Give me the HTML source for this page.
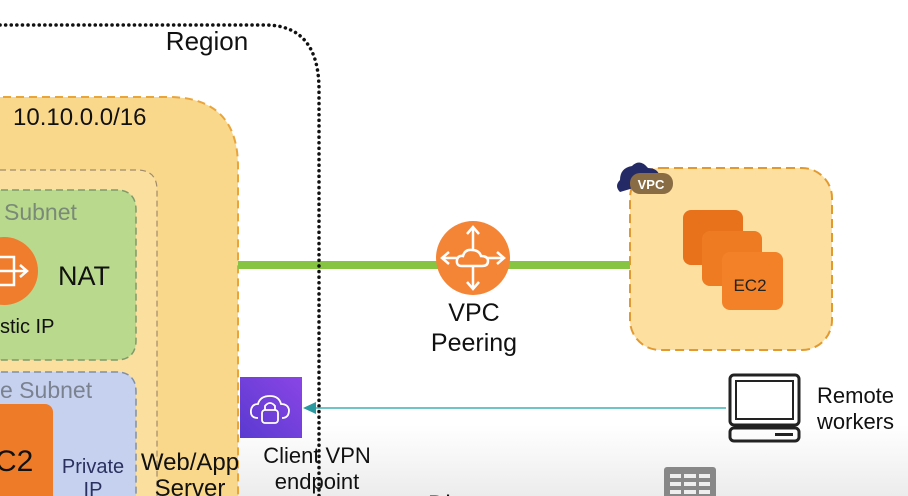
<!DOCTYPE html>
<html><head><meta charset="utf-8"><style>
html,body{margin:0;padding:0;background:#fff;}
svg{display:block;font-family:"Liberation Sans",sans-serif;}
</style></head><body>
<svg width="908" height="496" viewBox="0 0 908 496" xmlns="http://www.w3.org/2000/svg">
<defs>
<linearGradient id="bg" x1="0" y1="0" x2="0" y2="1">
<stop offset="0" stop-color="#ffffff"/><stop offset="1" stop-color="#ececec"/></linearGradient>
<linearGradient id="pur" x1="0" y1="1" x2="1" y2="0">
<stop offset="0" stop-color="#5a3ad0"/><stop offset="1" stop-color="#8a45e6"/></linearGradient>
</defs>
<rect x="0" y="425" width="908" height="71" fill="url(#bg)"/>
<path d="M-10 97 H168 Q238 97 238 167 V500 H-10 Z" fill="#f9d88c" stroke="#e9a43c" stroke-width="2" stroke-dasharray="8,5"/>
<text x="13" y="125" font-size="24" fill="#111">10.10.0.0/16</text>
<path d="M-10 170 H137 Q157 170 157 190 V500 H-10 Z" fill="#fbdf9e" stroke="#a08a6a" stroke-width="1.2" stroke-dasharray="6,4"/>
<path d="M-10 190 H116 Q136 190 136 210 V340 Q136 360 116 360 H-10 Z" fill="#b9d98c" stroke="#7f9a6a" stroke-width="1.5" stroke-dasharray="7,4"/>
<text x="4" y="220" font-size="23" fill="#7a8a78">Subnet</text>
<circle cx="4" cy="271" r="34" fill="#f07c2e"/>
<path d="M-4 257 H14 V285 H-4 M-4 271 H26 M20 265 L27 271 L20 277" fill="none" stroke="#fff" stroke-width="2.5"/>
<text x="58" y="285" font-size="27" fill="#111">NAT</text>
<text x="0" y="333" font-size="20" fill="#111">stic IP</text>
<path d="M-10 372 H116 Q136 372 136 392 V500 H-10 Z" fill="#c6d1ef" stroke="#7f8fa8" stroke-width="1.5" stroke-dasharray="7,4"/>
<text x="0" y="398" font-size="23" fill="#7a8290">e Subnet</text>
<rect x="-10" y="404" width="63" height="100" rx="8" fill="#ee7b27"/>
<text x="-5" y="471" font-size="30" fill="#111">C2</text>
<text x="93" y="473" font-size="20" fill="#2a3160" text-anchor="middle">Private</text>
<text x="93" y="496" font-size="20" fill="#2a3160" text-anchor="middle">IP</text>
<text x="190" y="470" font-size="24" fill="#111" text-anchor="middle">Web/App</text>
<text x="190" y="496" font-size="24" fill="#111" text-anchor="middle">Server</text>
<rect x="238" y="261" width="394" height="8" fill="#86c442"/>
<path d="M0 25 H265 Q319 25 319 90 V500" fill="none" stroke="#111" stroke-width="3.5" stroke-dasharray="0.1,5.5" stroke-linecap="round"/>
<text x="207" y="50" font-size="26" fill="#111" text-anchor="middle">Region</text>
<circle cx="473" cy="258" r="37" fill="#f58536"/>
<g stroke="#fff" stroke-width="2.5" fill="none">
<path d="M473 228 V288 M443 258 H503"/>
<path d="M467 234 L473 227 L479 234 M467 282 L473 289 L479 282 M449 252 L442 258 L449 264 M497 252 L504 258 L497 264"/>
<path d="M462 266 Q456 266 457 260 Q458 255 463 256 Q465 249 472 250 Q479 250 481 256 Q488 256 488 261 Q488 266 482 266 Z" fill="#f58536"/>
</g>
<text x="474" y="321" font-size="25" fill="#111" text-anchor="middle">VPC</text>
<text x="474" y="351" font-size="25" fill="#111" text-anchor="middle">Peering</text>
<rect x="630" y="168" width="202" height="182" rx="30" fill="#fddf9f" stroke="#e29a30" stroke-width="2" stroke-dasharray="9,5"/>
<path d="M620 192 Q614 186 620 180 Q620 168 632 166 Q640 158 648 168 Q660 168 660 180 Z" fill="#232a66"/>
<rect x="630" y="173" width="43" height="21" rx="10" fill="#8a6c44"/>
<text x="651" y="189" font-size="13" fill="#fff" text-anchor="middle" font-weight="bold">VPC</text>
<rect x="683" y="210" width="60" height="55" rx="8" fill="#e8711c"/>
<rect x="702" y="231" width="60" height="55" rx="8" fill="#ee7a22"/>
<rect x="722" y="252" width="61" height="58" rx="8" fill="#f38128"/>
<text x="750" y="291" font-size="17" fill="#222" text-anchor="middle">EC2</text>
<rect x="240" y="377" width="62" height="61" fill="url(#pur)"/>
<g stroke="#fff" stroke-width="1.8" fill="none">
<path d="M258 418 Q250 418 251 410 Q252 404 258 404 Q260 396 270 396 Q279 396 281 404 Q288 404 289 410 Q289 418 282 418"/>
<rect x="262" y="410" width="16" height="13" rx="3"/>
<path d="M265 410 V406 Q270 400 275 406 V410"/>
</g>
<line x1="312" y1="408" x2="726" y2="408" stroke="#3fb0b4" stroke-width="1.5"/>
<path d="M303 408 L316 402 L316 414 Z" fill="#2a9aa0"/>
<text x="317" y="463" font-size="22" fill="#111" text-anchor="middle">Client VPN</text>
<text x="317" y="489" font-size="22" fill="#111" text-anchor="middle">endpoint</text>
<rect x="730" y="375" width="69" height="50" rx="4" fill="none" stroke="#222" stroke-width="3"/>
<rect x="736" y="381" width="57" height="38" fill="none" stroke="#222" stroke-width="2"/>
<rect x="730" y="428" width="69" height="13" rx="4" fill="none" stroke="#222" stroke-width="3"/>
<rect x="775" y="433" width="18" height="3" fill="#222"/>
<text x="817" y="403" font-size="22" fill="#111">Remote</text>
<text x="817" y="429" font-size="22" fill="#111">workers</text>
<rect x="664" y="467" width="52" height="40" rx="3" fill="#888"/>
<g fill="#eee"><rect x="670" y="474" width="11" height="4"/><rect x="684" y="474" width="12" height="4"/><rect x="699" y="474" width="11" height="4"/>
<rect x="670" y="482" width="11" height="4"/><rect x="684" y="482" width="12" height="4"/><rect x="699" y="482" width="11" height="4"/>
<rect x="670" y="490" width="11" height="4"/><rect x="684" y="490" width="12" height="4"/><rect x="699" y="490" width="11" height="4"/></g>
<text x="428" y="512" font-size="24" fill="#111">Direct</text>
</svg>
</body></html>
